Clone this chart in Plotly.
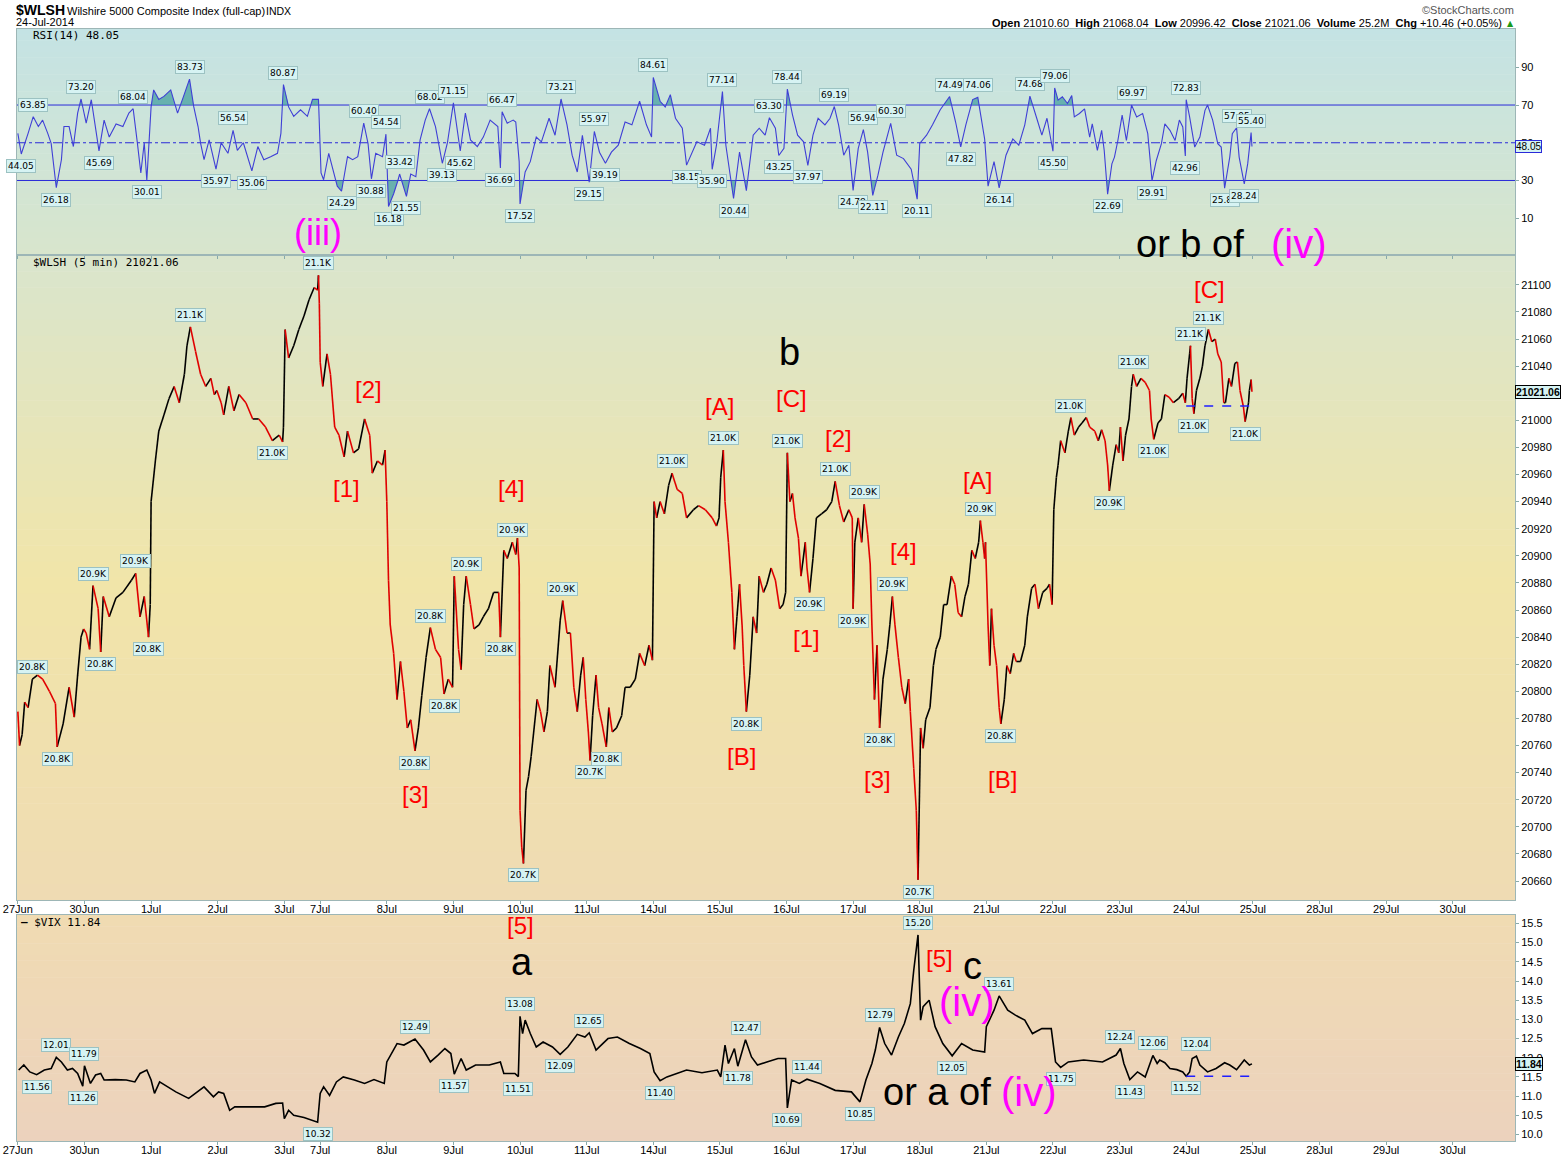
import plotly.graph_objects as go

# ---------------------------------------------------------------------------
#  $WLSH 5-minute chart, 27 Jun - 24 Jul 2014, with RSI(14) and $VIX panels
#  x = 5-minute bar number counted from the 27 Jun 09:30 open
# ---------------------------------------------------------------------------

# sessions on the axis (3 Jul closed at 13:00 -> 42 bars)
days = ["27Jun", "30Jun", "1Jul", "2Jul", "3Jul", "7Jul", "8Jul", "9Jul", "10Jul",
        "11Jul", "14Jul", "15Jul", "16Jul", "17Jul", "18Jul", "21Jul", "22Jul",
        "23Jul", "24Jul", "25Jul", "28Jul", "29Jul", "30Jul"]
day_bars = [78, 78, 78, 78, 42] + [78] * 18

# $WLSH closes (bar, price)
wlsh_pts = [
    (0, 20785), (2, 20760), (5, 20768), (8, 20792), (12, 20788), (17, 20809), (23, 20812),
    (29, 20809), (37, 20800), (44, 20791), (46, 20759), (53, 20776), (60, 20803), (66, 20781),
    (70, 20812), (74, 20840), (77, 20846),
    (80, 20843), (84, 20831), (88, 20878), (94, 20861), (97, 20829), (100, 20870), (107, 20855),
    (115, 20869), (123, 20873), (133, 20882), (138, 20887), (143, 20855), (148, 20870),
    (153, 20840), (155, 20864),
    (156, 20940), (161, 20970), (165, 20992), (171, 21004), (177, 21016), (183, 21025),
    (189, 21013), (195, 21034), (198, 21055), (202, 21069), (208, 21051), (214, 21034),
    (220, 21025), (226, 21031), (230, 21019), (233, 21022),
    (238, 21013), (241, 21004), (247, 21025), (253, 21007), (259, 21019), (267, 21013),
    (275, 21001), (282, 21001), (290, 20995), (298, 20985), (306, 20989), (310, 20984),
    (311, 20995),
    (313, 21067), (317, 21046), (323, 21055), (329, 21067), (335, 21077), (341, 21089),
    (347, 21098), (351, 21096), (352, 21107), (353, 21086),
    (354, 21043), (357, 21025), (362, 21049), (366, 21034), (371, 20995), (376, 20989),
    (382, 20973), (386, 20992), (393, 20976), (399, 20979), (406, 21001), (412, 20989),
    (415, 20961), (421, 20970), (427, 20967), (430, 20978),
    (432, 20940), (434, 20882), (436, 20849), (440, 20828), (444, 20794), (448, 20822),
    (452, 20800), (456, 20773), (460, 20779), (465, 20756), (469, 20773), (473, 20797),
    (478, 20825), (483, 20847), (489, 20831), (495, 20825), (499, 20798), (504, 20809),
    (509, 20803),
    (511, 20885), (516, 20831), (519, 20816), (522, 20864), (525, 20885), (530, 20864),
    (534, 20846), (540, 20849), (545, 20855), (551, 20861), (557, 20873), (563, 20873),
    (565, 20840), (569, 20904), (573, 20898), (579, 20910), (583, 20901), (585, 20913),
    (587, 20891),
    (588, 20712), (590, 20685), (592, 20673), (595, 20727), (598, 20737), (601, 20752),
    (604, 20770), (608, 20794), (612, 20785), (616, 20770), (620, 20785), (623, 20819),
    (629, 20803), (635, 20852), (638, 20867), (643, 20843), (647, 20843), (651, 20803),
    (655, 20785), (659, 20812), (662, 20825), (665, 20794),
    (668, 20770), (670, 20749), (673, 20782), (677, 20812), (680, 20788), (684, 20776),
    (689, 20759), (692, 20788), (696, 20770), (701, 20773), (707, 20782), (711, 20803),
    (717, 20803), (723, 20809), (728, 20828), (734, 20819), (739, 20834), (743, 20823),
    (745, 20940), (748, 20928), (752, 20940), (757, 20931), (762, 20952), (766, 20961),
    (772, 20949), (778, 20946), (783, 20928), (791, 20934), (797, 20937), (805, 20934),
    (813, 20928), (818, 20922), (821, 20928),
    (823, 20958), (826, 20978), (828, 20940), (832, 20910), (836, 20873), (839, 20831),
    (842, 20855), (845, 20879), (848, 20849), (850, 20819), (853, 20785), (857, 20812),
    (861, 20855), (865, 20843), (868, 20885), (873, 20873), (877, 20879), (882, 20891),
    (887, 20882), (892, 20861), (896, 20864), (899, 20873),
    (901, 20976), (904, 20940), (907, 20946), (910, 20928), (914, 20913), (917, 20885),
    (922, 20910), (924, 20891), (927, 20873), (931, 20898), (935, 20928), (941, 20931),
    (947, 20934), (953, 20940), (957, 20955), (962, 20937), (967, 20925), (973, 20934),
    (977, 20928),
    (978, 20861), (980, 20910), (984, 20928), (988, 20910), (991, 20938), (995, 20916),
    (998, 20894), (1000, 20849), (1003, 20794), (1006, 20834), (1009, 20773), (1013, 20809),
    (1018, 20831), (1021, 20849), (1024, 20870), (1027, 20849), (1031, 20825), (1035, 20803),
    (1039, 20791), (1043, 20809), (1045, 20785), (1049, 20743), (1052, 20712), (1054, 20661),
    (1055, 20697),
    (1057, 20773), (1060, 20758), (1063, 20779), (1068, 20788), (1072, 20819), (1075, 20831),
    (1080, 20840), (1084, 20864), (1088, 20864), (1093, 20885), (1097, 20879), (1101, 20858),
    (1105, 20855), (1109, 20870), (1113, 20879), (1117, 20904), (1121, 20898), (1125, 20910),
    (1127, 20926), (1130, 20910), (1132, 20898), (1133, 20910),
    (1136, 20849), (1138, 20819), (1140, 20861), (1143, 20834), (1146, 20819), (1149, 20788),
    (1151, 20776), (1155, 20794), (1158, 20819), (1162, 20813), (1166, 20828), (1169, 20822),
    (1174, 20822), (1179, 20834), (1182, 20855), (1187, 20876), (1191, 20879), (1195, 20861),
    (1200, 20873), (1205, 20876), (1208, 20879), (1211, 20864),
    (1213, 20934), (1216, 20958), (1218, 20967), (1221, 20985), (1226, 20976), (1230, 20992),
    (1233, 21002), (1237, 20989), (1242, 20995), (1246, 20998), (1251, 21002), (1255, 20995),
    (1261, 20992), (1265, 20985), (1269, 20993), (1273, 20985), (1276, 20967), (1278, 20948),
    (1282, 20967), (1286, 20982), (1289, 20976),
    (1291, 20995), (1294, 20970), (1297, 20989), (1301, 21001), (1304, 21025), (1306, 21034),
    (1310, 21025), (1315, 21031), (1320, 21028), (1325, 21022), (1327, 21001), (1330, 20986),
    (1335, 20998), (1339, 21001), (1343, 21019), (1348, 21017), (1353, 21013), (1359, 21016),
    (1364, 21020), (1367, 21013),
    (1369, 21031), (1372, 21049), (1373, 21055), (1375, 21016), (1377, 21005), (1380, 21022),
    (1384, 21031), (1387, 21040), (1390, 21055), (1394, 21067), (1398, 21058), (1402, 21060),
    (1405, 21049), (1409, 21043), (1412, 21013), (1414, 21013), (1418, 21031), (1421, 21025),
    (1425, 21042), (1428, 21043), (1431, 21022), (1435, 21010), (1437, 20999), (1441, 21013),
    (1442, 21022), (1444, 21030), (1445, 21021.06),
]
wlsh_hi = [17, 88, 138, 202, 352, 483, 525, 579, 638, 766, 826, 901, 957, 991, 1024,
           1127, 1233, 1306, 1373, 1394]
wlsh_lo = [46, 97, 153, 298, 465, 499, 565, 592, 670, 689, 853, 927, 978, 1009, 1054,
           1151, 1278, 1330, 1377, 1437]

# RSI(14) (bar, value)
rsi_pts = [
    (0, 55), (4, 44.05), (12, 55), (18, 63.85), (24, 58.6), (29, 62), (35, 55), (39, 49.7),
    (45, 26.18), (51, 41), (54, 58.6), (60, 58.6), (65, 48), (70, 65.7), (74, 73.20),
    (80, 60.4), (86, 72.8), (91, 58.6), (95, 45.69), (101, 62), (107, 53), (115, 60),
    (123, 58.6), (130, 65.7), (135, 68.04), (140, 49.7), (144, 34), (148, 50), (151, 30.01),
    (156, 69), (159, 78), (165, 73), (171, 74.6), (179, 78), (187, 65.7), (194, 74.6),
    (201, 83.73), (206, 69), (211, 58.6), (214, 49.7), (218, 41), (224, 51.5), (232, 35.97),
    (238, 50), (246, 44.4), (252, 56.54), (257, 46), (264, 50), (274, 35.06), (281, 48),
    (288, 41), (296, 42.6), (304, 44.4), (308, 55), (311, 80.87), (317, 69), (323, 64),
    (331, 67.5), (339, 64), (345, 73), (352, 73), (355, 34), (358, 30.4), (364, 44.4),
    (370, 34), (374, 27), (379, 24.29), (386, 42.6), (392, 41), (398, 42.6), (405, 60.40),
    (410, 49.7), (414, 30.88), (419, 44.4), (427, 42.6), (431, 54.54), (434, 16.18), (440, 23),
    (445, 30), (447, 33.42), (455, 21.55), (460, 33.4), (466, 32), (471, 51.5), (477, 62),
    (482, 68.02), (489, 58.6), (497, 39.13), (503, 50), (510, 71.15), (518, 45.62),
    (524, 65.7), (530, 51.5), (538, 48), (545, 53), (553, 62), (562, 58.6), (565, 36.69),
    (567, 66.47), (573, 60.4), (580, 62), (583, 61), (587, 40), (588, 17.52), (594, 34.5),
    (600, 40), (607, 53), (613, 50.5), (622, 63), (629, 54), (636, 73.21), (643, 59.5),
    (649, 43.4), (655, 34.5), (661, 54), (669, 29.15), (675, 55.97), (681, 45), (688, 39.19),
    (695, 45), (703, 48.7), (711, 61), (719, 59.5), (728, 72), (736, 59.5), (742, 53),
    (744, 84.61), (752, 72), (758, 69), (764, 75.5), (770, 63), (778, 57.7), (783, 38.15),
    (790, 45), (795, 50.5), (804, 48.7), (811, 57.7), (813, 35.90), (818, 48.7), (825, 77.14),
    (829, 48.7), (838, 20.44), (845, 45), (853, 24.6), (861, 54), (868, 57.7), (875, 54),
    (880, 63.30), (887, 57.7), (891, 43.25), (897, 47), (901, 78.44), (907, 64.8), (913, 54),
    (920, 50.5), (925, 37.97), (931, 54), (937, 63), (945, 59.5), (951, 63), (956, 69.19),
    (961, 59.5), (967, 43.4), (973, 48.7), (978, 24.78), (984, 47), (990, 56.94), (995, 45),
    (1001, 22.11), (1007, 32.7), (1013, 45), (1022, 60.30), (1029, 43.4), (1037, 41.6),
    (1046, 36), (1053, 20.11), (1056, 49.6), (1064, 54), (1071, 59.5), (1080, 67.5),
    (1091, 74.49), (1098, 61), (1104, 47.82), (1110, 59.5), (1118, 72.9), (1124, 74.06),
    (1132, 52), (1136, 27), (1143, 40), (1149, 26.14), (1157, 43.4), (1165, 52), (1172, 48.7),
    (1179, 59.5), (1185, 74.68), (1193, 63), (1199, 54), (1205, 63), (1212, 45.50),
    (1214, 79.06), (1218, 72.6), (1223, 74.4), (1229, 70.8), (1234, 75), (1237, 63.7),
    (1243, 65.5), (1249, 68), (1255, 53), (1258, 60), (1264, 46), (1269, 56.6), (1272, 46),
    (1276, 22.69), (1281, 38.8), (1284, 42.4), (1288, 51.2), (1293, 64.6), (1298, 51.2),
    (1304, 69.97), (1310, 63.7), (1317, 65.5), (1323, 54.8), (1328, 29.91), (1333, 40.6),
    (1339, 49.5), (1343, 60), (1349, 56.6), (1355, 51.2), (1360, 62), (1364, 58.4),
    (1367, 42.96), (1368, 72.83), (1372, 63.7), (1378, 47.7), (1384, 53), (1390, 67.2),
    (1393, 70), (1399, 62), (1405, 49.5), (1409, 47.7), (1413, 25.87), (1419, 42.4),
    (1422, 54.8), (1427, 57.95), (1430, 42.4), (1436, 28.24), (1440, 38.8), (1444, 55.40),
    (1445, 48.05),
]
rsi_hi = [18, 74, 135, 201, 252, 311, 405, 431, 447, 482, 510, 567, 636, 675, 744, 825,
          880, 901, 956, 990, 1022, 1091, 1124, 1185, 1214, 1304, 1368, 1427, 1444]
rsi_lo = [4, 45, 95, 151, 232, 274, 379, 414, 434, 455, 497, 518, 565, 588, 669, 688, 783,
          813, 838, 891, 925, 978, 1001, 1053, 1104, 1149, 1212, 1276, 1328, 1367, 1413, 1436]

# $VIX (bar, value)
vix_pts = [
    (1, 11.68), (7, 11.81), (14, 11.63), (22, 11.56), (31, 11.68), (39, 11.72), (45, 12.01),
    (51, 11.89), (58, 11.68), (64, 11.72), (70, 11.59), (76, 11.26), (78, 11.79), (85, 11.33),
    (91, 11.55), (97, 11.59), (101, 11.42), (114, 11.43), (127, 11.42), (137, 11.37),
    (143, 11.59), (151, 11.68), (156, 11.42), (160, 11.07), (166, 11.37), (175, 11.24),
    (185, 11.11), (200, 10.94), (210, 11.11), (218, 11.24), (229, 10.98), (235, 11.11),
    (241, 11.07), (248, 10.63), (254, 10.72), (268, 10.72), (289, 10.72), (302, 10.81),
    (310, 10.82), (312, 10.41), (317, 10.63), (323, 10.50), (335, 10.44), (351, 10.32),
    (354, 11.07), (358, 11.24), (365, 11.02), (373, 11.37), (381, 11.50), (394, 11.42),
    (406, 11.33), (417, 11.43), (429, 11.33), (432, 11.89), (438, 12.15), (444, 12.37),
    (452, 12.33), (465, 12.49), (475, 12.20), (483, 11.89), (492, 12.07), (500, 12.24),
    (507, 12.11), (511, 11.57), (519, 11.98), (525, 11.68), (536, 11.81), (552, 11.81),
    (565, 11.89), (569, 11.59), (582, 11.59), (586, 11.51), (588, 13.08), (591, 12.63),
    (594, 12.98), (600, 12.63), (607, 12.28), (615, 12.41), (626, 12.28), (635, 12.09),
    (644, 12.28), (655, 12.61), (664, 12.54), (669, 12.65), (677, 12.20), (691, 12.50),
    (702, 12.54), (716, 12.37), (729, 12.24), (740, 12.11), (745, 11.63), (752, 11.40),
    (760, 11.50), (783, 11.68), (801, 11.61), (819, 11.68), (823, 11.50), (828, 12.33),
    (832, 11.85), (839, 12.24), (843, 11.78), (852, 12.47), (859, 12.02), (866, 11.81),
    (877, 11.89), (890, 11.98), (899, 11.98), (901, 10.69), (906, 11.42), (915, 11.33),
    (924, 11.44), (939, 11.33), (957, 11.15), (976, 11.11), (986, 10.85), (993, 11.42),
    (1000, 11.85), (1004, 12.20), (1009, 12.79), (1015, 12.37), (1023, 12.07), (1031, 12.54),
    (1038, 12.89), (1045, 13.41), (1049, 14.28), (1054, 15.20), (1057, 12.98), (1060, 13.33),
    (1067, 13.50), (1074, 12.81), (1083, 12.37), (1094, 12.05), (1105, 12.37), (1118, 12.20),
    (1132, 12.15), (1134, 12.81), (1143, 13.24), (1149, 13.61), (1159, 13.24), (1168, 13.11),
    (1179, 12.98), (1188, 12.63), (1199, 12.76), (1210, 12.76), (1215, 11.89), (1221, 11.75),
    (1230, 11.89), (1248, 11.94), (1270, 11.89), (1286, 12.07), (1291, 12.24), (1295, 11.85),
    (1302, 11.43), (1311, 11.63), (1320, 11.50), (1329, 12.06), (1334, 11.85), (1337, 11.94),
    (1343, 11.87), (1349, 11.72), (1357, 11.69), (1364, 11.63), (1368, 11.52), (1372, 11.63),
    (1375, 11.98), (1380, 12.04), (1384, 11.81), (1393, 11.63), (1403, 11.72), (1413, 11.87),
    (1419, 11.81), (1427, 11.69), (1436, 11.94), (1442, 11.81), (1445, 11.84),
]
vix_hi = [45, 78, 465, 588, 669, 852, 924, 1009, 1054, 1149, 1291, 1329, 1380]
vix_lo = [22, 76, 351, 511, 586, 635, 752, 843, 901, 986, 1094, 1221, 1302, 1368]

# 24 Jul session
wlsh_open = 21010.60
vix_open = 11.52
header_left = "Wilshire 5000 Composite Index (full-cap)"
header_right = ("<b>Open</b> 21010.60  <b>High</b> 21068.04  <b>Low</b> 20996.42  "
                "<b>Close</b> 21021.06  <b>Volume</b> 25.2M  <b>Chg</b> +10.46 (+0.05%)")

# Elliott-wave notes: text, pixel x, pixel y, colour, size
RED, MAG, BLK = "#ff0000", "#ff00ff", "#000000"
wave_notes = [
    ("(iii)", 318, 233, MAG, 36), ("or b of", 1190, 244, BLK, 38), ("(iv)", 1299, 244, MAG, 40),
    ("[C]", 1209, 289, RED, 24), ("b", 789, 352, BLK, 38), ("[2]", 368, 389, RED, 24),
    ("[A]", 719, 406, RED, 24), ("[C]", 791, 398, RED, 24), ("[2]", 838, 438, RED, 24),
    ("[1]", 346, 488, RED, 24), ("[4]", 511, 488, RED, 24), ("[A]", 977, 480, RED, 24),
    ("[4]", 903, 551, RED, 24), ("[1]", 806, 639, RED, 24), ("[B]", 741, 757, RED, 24),
    ("[3]", 415, 795, RED, 24), ("[3]", 877, 779, RED, 24), ("[B]", 1002, 779, RED, 24),
    ("[5]", 520, 925, RED, 24), ("a", 522, 962, BLK, 38), ("[5]", 939, 958, RED, 24),
    ("c", 972, 966, BLK, 38), ("(iv)", 967, 1002, MAG, 40), ("or a of", 937, 1092, BLK, 38),
    ("(iv)", 1029, 1092, MAG, 40),
]

# ── geometry of the picture ────────────────────────────────────────────────
W, H = 1565, 1157
L, R, T, B = 17, 50, 29, 16
PW, PH = W - L - R, H - T - B


def px(x):
    return (x - L) / PW


def py(y):
    return (H - B - y) / PH


day_start = [sum(day_bars[:i]) for i in range(len(days))]
x_range = [-1, 1753]


def split_updown(xs, ys):
    """black segments for rising closes, red ones for falling closes"""
    up = ([], [])
    dn = ([], [])
    for i in range(1, len(xs)):
        t = dn if ys[i] < ys[i - 1] else up
        t[0].extend([xs[i - 1], xs[i], None])
        t[1].extend([ys[i - 1], ys[i], None])
    return up, dn


def clip_band(xs, ys, level, above=True):
    fx, fy = [], []
    for i in range(len(xs)):
        if i > 0:
            a, b = ys[i - 1] - level, ys[i] - level
            if a * b < 0:
                t = a / (a - b)
                fx.append(xs[i - 1] + t * (xs[i] - xs[i - 1]))
                fy.append(level)
        fx.append(xs[i])
        fy.append(max(ys[i], level) if above else min(ys[i], level))
    return fx, fy


def hex2rgb(h):
    return tuple(int(h[i:i + 2], 16) for i in (1, 3, 5))


def gradient(y_top, y_bot, stops, n=40):
    shapes = []
    for k in range(n):
        t = (k + 0.5) / n
        for j in range(len(stops) - 1):
            if stops[j][0] <= t <= stops[j + 1][0]:
                f = (t - stops[j][0]) / (stops[j + 1][0] - stops[j][0])
                c0, c1 = hex2rgb(stops[j][1]), hex2rgb(stops[j + 1][1])
                break
        col = "rgb(%d,%d,%d)" % tuple(round(a + (b - a) * f) for a, b in zip(c0, c1))
        shapes.append(dict(type="rect", xref="paper", yref="paper", x0=0, x1=1,
                           y0=y_top - (y_top - y_bot) * k / n,
                           y1=y_top - (y_top - y_bot) * (k + 1) / n - 0.0005,
                           fillcolor=col, line_width=0, layer="below"))
    return shapes


def tag(text, x, y, xa, ya, up):
    return dict(text=text, x=x, y=y, xref=xa, yref=ya, showarrow=False,
                xanchor="center", yanchor="bottom" if up else "top", yshift=5 if up else -5,
                font=dict(family="DejaVu Sans", size=9, color="black"),
                bgcolor="#d6f3f3", bordercolor="#9cc2c2", borderwidth=1, borderpad=1)


def note(text, x, y, font, xanchor="center"):
    """free text placed by its pixel position on the picture"""
    return dict(text=text, x=px(x), y=py(y), xref="paper", yref="paper", showarrow=False,
                xanchor=xanchor, yanchor="middle", font=font)


wx, wy = [p[0] for p in wlsh_pts], [p[1] for p in wlsh_pts]
rx, ry = [p[0] for p in rsi_pts], [p[1] for p in rsi_pts]
vx, vy = [p[0] for p in vix_pts], [p[1] for p in vix_pts]
wlsh_at, rsi_at, vix_at = dict(wlsh_pts), dict(rsi_pts), dict(vix_pts)

rsi_dom = [py(255), 1]
px_dom = [py(900), py(255)]
vix_dom = [0, py(915)]

fig = go.Figure()

# ── RSI panel ──────────────────────────────────────────────────────────────
for lvl, above in ((70, True), (30, False)):
    fx, fy = clip_band(rx, ry, lvl, above)
    fig.add_trace(go.Scatter(x=fx, y=[lvl] * len(fx), mode="lines", line_width=0,
                             hoverinfo="skip", xaxis="x", yaxis="y"))
    fig.add_trace(go.Scatter(x=fx, y=fy, mode="lines", line_width=0, fill="tonexty",
                             fillcolor="rgba(70,160,160,0.75)", hoverinfo="skip",
                             xaxis="x", yaxis="y"))
fig.add_trace(go.Scatter(x=rx, y=ry, mode="lines", line=dict(color="#3f3fd6", width=1.1),
                         name="RSI(14)", xaxis="x", yaxis="y"))

# ── price panel ────────────────────────────────────────────────────────────
up, dn = split_updown(wx, wy)
fig.add_trace(go.Scatter(x=up[0], y=up[1], mode="lines", line=dict(color="black", width=1.6),
                         hoverinfo="skip", xaxis="x2", yaxis="y2"))
fig.add_trace(go.Scatter(x=dn[0], y=dn[1], mode="lines", line=dict(color="#e00000", width=1.6),
                         hoverinfo="skip", xaxis="x2", yaxis="y2"))

# ── VIX panel ──────────────────────────────────────────────────────────────
fig.add_trace(go.Scatter(x=vx, y=vy, mode="lines", line=dict(color="black", width=1.6),
                         name="$VIX", xaxis="x3", yaxis="y3"))

# ── backgrounds, reference lines ───────────────────────────────────────────
shapes = []
shapes += gradient(rsi_dom[1], rsi_dom[0], [(0, "#c4e3e4"), (1, "#d8e5cc")])
shapes += gradient(px_dom[1], px_dom[0], [(0, "#d9e5cd"), (0.5, "#f1e5a9"), (1, "#efdbb3")])
shapes += gradient(vix_dom[1], vix_dom[0], [(0, "#f0dbb2"), (1, "#ecd2bd")])
for lvl, dash in ((70, "solid"), (30, "solid"), (50, "dashdot")):
    shapes.append(dict(type="line", xref="x domain", yref="y", x0=0, x1=1, y0=lvl, y1=lvl,
                       line=dict(color="#2a2ad8", width=1, dash=dash), layer="below"))
last_day = day_start[days.index("24Jul")]
shapes.append(dict(type="line", xref="x2", yref="y2", x0=last_day, x1=wx[-1],
                   y0=wlsh_open, y1=wlsh_open, line=dict(color="#1f1fff", width=1.5, dash="dash")))
shapes.append(dict(type="line", xref="x3", yref="y3", x0=last_day, x1=vx[-1],
                   y0=vix_open, y1=vix_open, line=dict(color="#1f1fff", width=1.5, dash="dash")))

# ── annotations ────────────────────────────────────────────────────────────
ann = []
for b in wlsh_hi:
    ann.append(tag(f"{wlsh_at[b] / 1000:.1f}K", b, wlsh_at[b], "x2", "y2", True))
for b in wlsh_lo:
    ann.append(tag(f"{wlsh_at[b] / 1000:.1f}K", b, wlsh_at[b], "x2", "y2", False))
for b in rsi_hi:
    ann.append(tag(f"{rsi_at[b]:.2f}", b, rsi_at[b], "x", "y", True))
for b in rsi_lo:
    ann.append(tag(f"{rsi_at[b]:.2f}", b, rsi_at[b], "x", "y", False))
for b in vix_hi:
    ann.append(tag(f"{vix_at[b]:.2f}", b, vix_at[b], "x3", "y3", True))
for b in vix_lo:
    ann.append(tag(f"{vix_at[b]:.2f}", b, vix_at[b], "x3", "y3", False))

for text, x, y, col, size in wave_notes:
    ann.append(note(text, x, y, dict(family="Liberation Sans", size=size, color=col)))

# current values on the right scale
for text, yv, ya, bold, border in ((f"{ry[-1]:.2f}", ry[-1], "y", False, "#2a2ad8"),
                                   (f"{wy[-1]:.2f}", wy[-1], "y2", True, "black"),
                                   (f"{vy[-1]:.2f}", vy[-1], "y3", True, "black")):
    ann.append(dict(text=f"<b>{text}</b>" if bold else text, x=1, y=yv, xref="paper", yref=ya,
                    xanchor="left", yanchor="middle", xshift=0, showarrow=False,
                    font=dict(family="Liberation Sans", size=10.5 if bold else 10, color="black"),
                    bgcolor="#d6f3f3", bordercolor=border, borderwidth=1, borderpad=0))

# panel titles
mono = dict(family="DejaVu Sans Mono", size=11, color="black")
ann.append(note(f"RSI(14) {ry[-1]:.2f}", 31, 36, mono, "left"))
ann.append(note(f"$WLSH (5 min) {wy[-1]:.2f}", 31, 262, mono, "left"))
ann.append(note(f"<b>\u2014</b> $VIX {vy[-1]:.2f}", 19, 922, mono, "left"))

# header
ann.append(note("<b>$WLSH</b>", 14, 10,
                dict(family="Liberation Sans", size=14, color="black"), "left"))
ann.append(note(header_left, 65, 11,
                dict(family="Liberation Sans", size=11, color="black"), "left"))
ann.append(note("INDX", 264, 11,
                dict(family="Liberation Sans", size=10.5, color="black"), "left"))
ann.append(note("24-Jul-2014", 14, 22,
                dict(family="Liberation Sans", size=11, color="black"), "left"))
ann.append(note(header_right, 1504, 23,
                dict(family="Liberation Sans", size=11, color="black"), "right"))
ann.append(note("\u25b2", 1505, 23, dict(family="DejaVu Sans", size=8, color="#1a9a1a"), "left"))
ann.append(note("\u00a9StockCharts.com", 1516, 10,
                dict(family="Liberation Sans", size=11, color="#555555"), "right"))

# ── axes ───────────────────────────────────────────────────────────────────
frame = dict(showline=True, linecolor="#9db6b6", linewidth=1, mirror=True, showgrid=False,
             zeroline=False, automargin=False)
tickfont = dict(family="Liberation Sans", size=11, color="black")
xcommon = dict(range=x_range, tickvals=day_start, ticktext=days, ticks="outside", ticklen=3,
               tickcolor="#8aa", tickfont=tickfont, ticklabelstandoff=-4, **frame)
ycommon = dict(side="right", ticks="outside", ticklen=3, tickcolor="#8aa",
               tickfont=tickfont, **frame)
# the 21020 label sits under the last-value box on the original, so it is left out
price_ticks = [v for v in range(20660, 21101, 20) if v != 21020]
vix_ticks = [10 + 0.5 * i for i in range(12)]

fig.update_layout(
    width=W, height=H,
    margin=dict(l=L, r=R, t=T, b=B, autoexpand=False),
    paper_bgcolor="white", plot_bgcolor="rgba(0,0,0,0)",
    showlegend=False, hovermode=False,
    xaxis=dict(domain=[0, 1], anchor="y", showticklabels=False, **xcommon),
    xaxis2=dict(domain=[0, 1], anchor="y2", matches="x", **xcommon),
    xaxis3=dict(domain=[0, 1], anchor="y3", matches="x", **xcommon),
    yaxis=dict(domain=rsi_dom, anchor="x", range=[-9.5, 110.3], tickvals=[10, 30, 50, 70, 90],
               **ycommon),
    yaxis2=dict(domain=px_dom, anchor="x2", range=[20646, 21122], tickvals=price_ticks,
                tickformat="d", **ycommon),
    yaxis3=dict(domain=vix_dom, anchor="x3", range=[9.83, 15.72], tickvals=vix_ticks,
                tickformat=".1f", **ycommon),
    shapes=shapes,
    annotations=ann,
)

fig.write_html("out.html", config={"displayModeBar": False},
               post_script="document.body.style.margin='0';document.body.style.overflow='hidden';")
